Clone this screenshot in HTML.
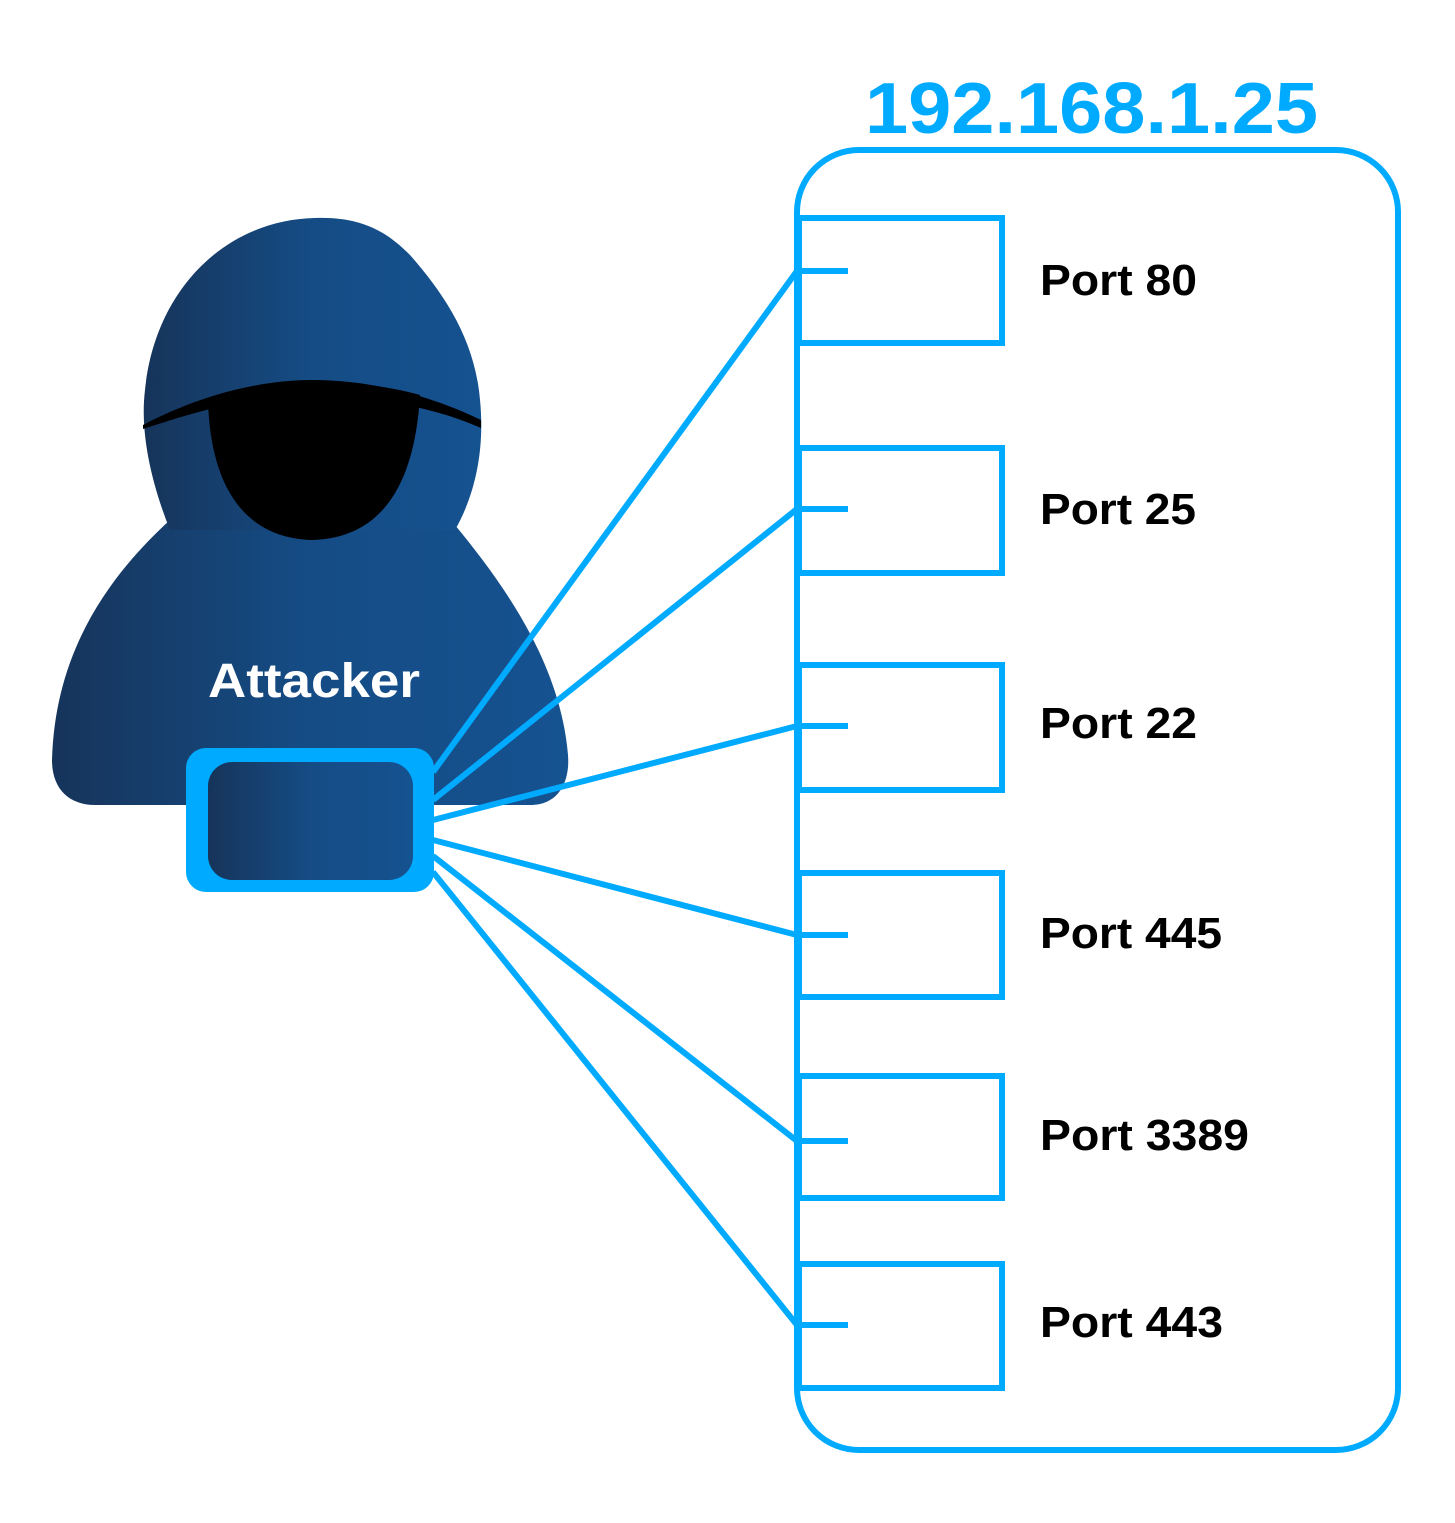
<!DOCTYPE html>
<html><head><meta charset="utf-8"><style>html,body{margin:0;padding:0;background:#fff}svg{display:block}</style></head>
<body>
<svg width="1455" height="1523" viewBox="0 0 1455 1523" xmlns="http://www.w3.org/2000/svg">
<defs>
<linearGradient id="g" x1="0" x2="1" y1="0" y2="0">
<stop offset="0" stop-color="#16345a"/><stop offset="0.5" stop-color="#154c85"/><stop offset="1" stop-color="#155290"/>
</linearGradient>
<linearGradient id="g2" x1="0" x2="1" y1="0" y2="0">
<stop offset="0" stop-color="#16345a"/><stop offset="0.5" stop-color="#154c85"/><stop offset="1" stop-color="#155290"/>
</linearGradient>
</defs>
<path d="M170,520 C110,575 55,650 52,760 C52,790 70,805 95,805 L530,805 C560,805 570,780 568,755 C560,660 500,580 455,525 Z" fill="url(#g)"/>
<path d="M170,530 C150,480 140,430 145,390 C155,290 225,220 315,218 C365,216 390,235 410,255 C445,295 475,340 480,400 C485,450 475,495 455,530 Z" fill="url(#g)"/>
<path d="M208,400 C210,480 240,538 312,540 C385,538 415,480 420,395 C385,385 345,382 312,382 C270,382 235,390 208,400 Z" fill="#000"/>
<path d="M143,425 C200,395 260,380 312,380 C370,380 430,395 481,420 L481,428 C440,410 390,398 312,396 C250,396 200,410 143,429 Z" fill="#000"/>
<g stroke="#00aaff" stroke-width="6" fill="none">
<line x1="433" y1="772" x2="797" y2="271"/>
<line x1="433" y1="800" x2="797" y2="509"/>
<line x1="433" y1="820" x2="797" y2="726"/>
<line x1="433" y1="840" x2="797" y2="935"/>
<line x1="433" y1="856" x2="797" y2="1141"/>
<line x1="433" y1="872" x2="797" y2="1325"/>
<rect x="797" y="150" width="601" height="1300" rx="62"/>
<rect x="799" y="218" width="203" height="125"/>
<rect x="799" y="448" width="203" height="125"/>
<rect x="799" y="665" width="203" height="125"/>
<rect x="799" y="873" width="203" height="124"/>
<rect x="799" y="1076" width="203" height="122"/>
<rect x="799" y="1264" width="203" height="124"/>
<line x1="797" y1="271" x2="848" y2="271"/>
<line x1="797" y1="509" x2="848" y2="509"/>
<line x1="797" y1="726" x2="848" y2="726"/>
<line x1="797" y1="935" x2="848" y2="935"/>
<line x1="797" y1="1141" x2="848" y2="1141"/>
<line x1="797" y1="1325" x2="848" y2="1325"/>
</g>
<rect x="186" y="748" width="248" height="144" rx="20" fill="#00aaff"/>
<rect x="208" y="762" width="205" height="118" rx="24" fill="url(#g2)"/>
<text x="208" y="697" textLength="212" lengthAdjust="spacingAndGlyphs" font-family="Liberation Sans, sans-serif" font-weight="bold" font-size="48" fill="#fff">Attacker</text>
<text x="865" y="133" textLength="453" lengthAdjust="spacingAndGlyphs" font-family="Liberation Sans, sans-serif" font-weight="bold" font-size="72" fill="#00aaff">192.168.1.25</text>
<g font-family="Liberation Sans, sans-serif" font-weight="bold" font-size="44" fill="#000">
<text x="1040" y="295" textLength="157" lengthAdjust="spacingAndGlyphs">Port 80</text>
<text x="1040" y="524" textLength="156" lengthAdjust="spacingAndGlyphs">Port 25</text>
<text x="1040" y="738" textLength="157" lengthAdjust="spacingAndGlyphs">Port 22</text>
<text x="1040" y="948" textLength="182" lengthAdjust="spacingAndGlyphs">Port 445</text>
<text x="1040" y="1150" textLength="209" lengthAdjust="spacingAndGlyphs">Port 3389</text>
<text x="1040" y="1337" textLength="183" lengthAdjust="spacingAndGlyphs">Port 443</text>
</g>
</svg>
</body></html>
